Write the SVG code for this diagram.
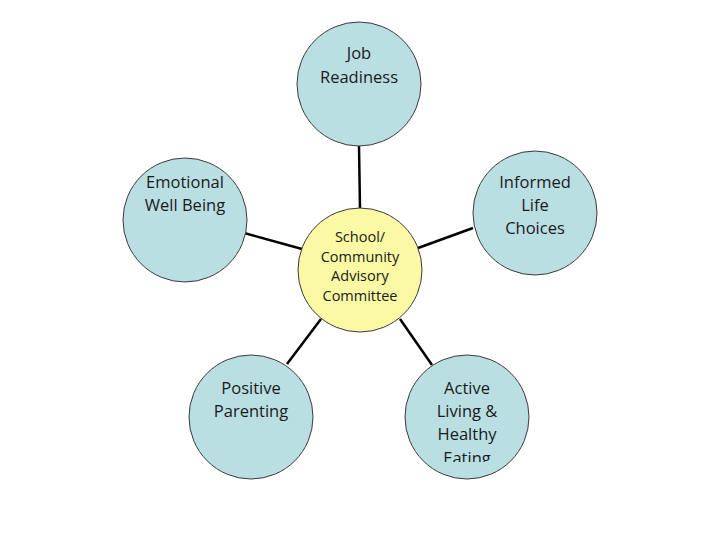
<svg xmlns="http://www.w3.org/2000/svg" width="720" height="540" viewBox="0 0 720 540">
<style>
.c{fill:#badfe3;stroke:#3a3a3a;stroke-width:1}
.y{fill:#fbf9a4;stroke:#3a3a3a;stroke-width:1}
.t{font-family:"Open Sans","Liberation Sans",sans-serif;font-size:16.5px;fill:#1a1a1a;text-anchor:middle}
.s{font-family:"Open Sans","Liberation Sans",sans-serif;font-size:14.5px;fill:#1a1a1a;text-anchor:middle}
.l{stroke:#000;stroke-width:2.5;fill:none}
</style>
<defs><clipPath id="clipA"><rect x="400" y="360" width="140" height="102"/></clipPath></defs>
<rect width="720" height="540" fill="#fff"/>
<g id="connectors">
<line class="l" x1="359" y1="146" x2="360" y2="209"/>
<line class="l" x1="244" y1="233" x2="302" y2="249"/>
<line class="l" x1="473" y1="228" x2="418" y2="248"/>
<line class="l" x1="287" y1="364" x2="321" y2="319"/>
<line class="l" x1="432" y1="365" x2="400" y2="319"/>
</g>
<g id="job"><circle class="c" cx="359" cy="84" r="62"/><text class="t" x="359" y="59">Job</text><text class="t" x="359" y="83">Readiness</text></g>
<g id="center"><circle class="y" cx="360" cy="270" r="62"/><text class="s" x="360" y="242">School/</text><text class="s" x="360" y="262">Community</text><text class="s" x="360" y="281">Advisory</text><text class="s" x="360" y="301">Committee</text></g>
<g id="emotional"><circle class="c" cx="185" cy="220" r="62"/><text class="t" x="185" y="188">Emotional</text><text class="t" x="185" y="211">Well Being</text></g>
<g id="informed"><circle class="c" cx="535" cy="213" r="62"/><text class="t" x="535" y="188">Informed</text><text class="t" x="535" y="211">Life</text><text class="t" x="535" y="234">Choices</text></g>
<g id="positive"><circle class="c" cx="251" cy="417" r="62"/><text class="t" x="251" y="394">Positive</text><text class="t" x="251" y="417">Parenting</text></g>
<g id="active"><circle class="c" cx="467" cy="417" r="62"/><g clip-path="url(#clipA)"><text class="t" x="467" y="394">Active</text><text class="t" x="467" y="417">Living &amp;</text><text class="t" x="467" y="440">Healthy</text><text class="t" x="467" y="464">Eating</text></g></g>
</svg>
